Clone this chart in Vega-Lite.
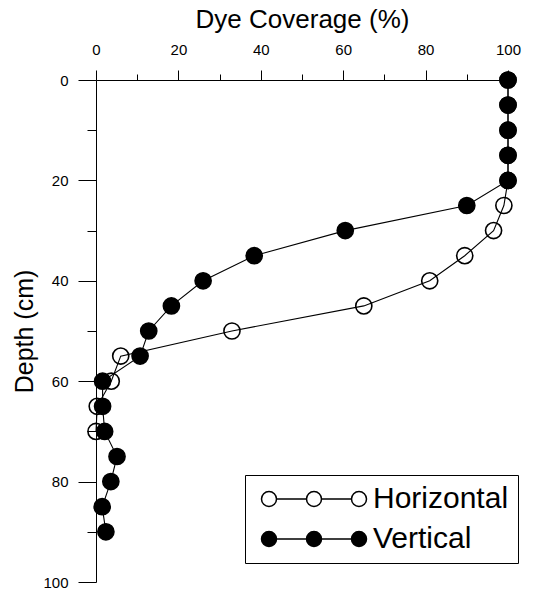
{
  "$schema": "https://vega.github.io/schema/vega-lite/v6.json",
  "width": 412,
  "height": 502,
  "autosize": "none",
  "padding": {"left": 96, "top": 80, "right": 46, "bottom": 8},
  "background": "white",
  "data": {
    "values": [
      {"series": "Horizontal", "coverage": 100, "depth": 0},
      {"series": "Horizontal", "coverage": 100, "depth": 5},
      {"series": "Horizontal", "coverage": 100, "depth": 10},
      {"series": "Horizontal", "coverage": 100, "depth": 15},
      {"series": "Horizontal", "coverage": 100, "depth": 20},
      {"series": "Horizontal", "coverage": 99, "depth": 25},
      {"series": "Horizontal", "coverage": 96.5, "depth": 30},
      {"series": "Horizontal", "coverage": 89.5, "depth": 35},
      {"series": "Horizontal", "coverage": 81, "depth": 40},
      {"series": "Horizontal", "coverage": 65, "depth": 45},
      {"series": "Horizontal", "coverage": 33, "depth": 50},
      {"series": "Horizontal", "coverage": 6, "depth": 55},
      {"series": "Horizontal", "coverage": 3.7, "depth": 60},
      {"series": "Horizontal", "coverage": 0.3, "depth": 65},
      {"series": "Horizontal", "coverage": 0, "depth": 70},
      {"series": "Vertical", "coverage": 100, "depth": 0},
      {"series": "Vertical", "coverage": 100, "depth": 5},
      {"series": "Vertical", "coverage": 100, "depth": 10},
      {"series": "Vertical", "coverage": 100, "depth": 15},
      {"series": "Vertical", "coverage": 100, "depth": 20},
      {"series": "Vertical", "coverage": 90, "depth": 25},
      {"series": "Vertical", "coverage": 60.5, "depth": 30},
      {"series": "Vertical", "coverage": 38.4, "depth": 35},
      {"series": "Vertical", "coverage": 26, "depth": 40},
      {"series": "Vertical", "coverage": 18.3, "depth": 45},
      {"series": "Vertical", "coverage": 12.8, "depth": 50},
      {"series": "Vertical", "coverage": 10.7, "depth": 55},
      {"series": "Vertical", "coverage": 1.6, "depth": 60},
      {"series": "Vertical", "coverage": 1.6, "depth": 65},
      {"series": "Vertical", "coverage": 2.1, "depth": 70},
      {"series": "Vertical", "coverage": 5.1, "depth": 75},
      {"series": "Vertical", "coverage": 3.6, "depth": 80},
      {"series": "Vertical", "coverage": 1.5, "depth": 85},
      {"series": "Vertical", "coverage": 2.4, "depth": 90}
    ]
  },
  "encoding": {
    "x": {
      "field": "coverage",
      "type": "quantitative",
      "scale": {"domain": [0, 100], "nice": false, "zero": false},
      "axis": {
        "orient": "top",
        "title": "Dye Coverage (%)",
        "titleFontSize": 26,
        "values": [0, 10, 20, 30, 40, 50, 60, 70, 80, 90, 100],
        "labelExpr": "datum.value % 20 === 0 ? datum.label : ''",
        "tickSize": {"condition": {"test": "datum.value % 20 === 0", "value": 10}, "value": 6},
        "labelFlush": false,
        "labelPadding": 13,
        "titlePadding": 10,
        "grid": false
      }
    },
    "y": {
      "field": "depth",
      "type": "quantitative",
      "scale": {"domain": [0, 100], "reverse": true, "nice": false},
      "axis": {
        "orient": "left",
        "title": "Depth (cm)",
        "titleFontSize": 25,
        "values": [0, 10, 20, 30, 40, 50, 60, 70, 80, 90, 100],
        "labelExpr": "datum.value % 20 === 0 ? datum.label : ''",
        "tickSize": {"condition": {"test": "datum.value % 20 === 0", "value": 18}, "value": 9},
        "labelFlush": false,
        "labelPadding": 10,
        "titlePadding": 5,
        "grid": false
      }
    }
  },
  "layer": [
    {
      "mark": {"type": "line", "color": "black", "strokeWidth": 1.1},
      "encoding": {
        "detail": {"field": "series"},
        "order": {"field": "depth", "type": "quantitative"}
      }
    },
    {
      "mark": {"type": "point", "shape": "circle", "filled": true, "size": 260, "stroke": "black", "strokeWidth": 1.6, "opacity": 1},
      "encoding": {
        "fill": {
          "field": "series",
          "type": "nominal",
          "scale": {"domain": ["Horizontal", "Vertical"], "range": ["rgba(0,0,0,0)", "black"]},
          "legend": {
            "title": null,
            "orient": "none",
            "legendX": 149,
            "legendY": 395,
            "strokeColor": "black",
            "padding": 9,
            "symbolType": "M1,0A1,1 0 1,1 -1,0A1,1 0 1,1 1,0Z M7,0A1,1 0 1,1 5,0A1,1 0 1,1 7,0Z M13,0A1,1 0 1,1 11,0A1,1 0 1,1 13,0Z M1,0L5,0M7,0L11,0",
            "symbolSize": 225,
            "symbolStrokeColor": "black",
            "symbolStrokeWidth": 1.5,
            "symbolOpacity": 1,
            "labelFontSize": 30,
            "labelFont": "Liberation Sans",
            "labelColor": "black",
            "labelOffset": 89,
            "labelLimit": 300,
            "rowPadding": 10
          }
        }
      }
    }
  ],
  "config": {
    "view": {"stroke": null},
    "font": "Liberation Sans",
    "axis": {
      "domainColor": "black",
      "domainWidth": 1,
      "tickColor": "black",
      "tickWidth": 1,
      "labelColor": "black",
      "labelFont": "Liberation Sans",
      "labelFontSize": 15,
      "titleColor": "black",
      "titleFont": "Liberation Sans",
      "titleFontSize": 24,
      "titleFontWeight": "normal"
    }
  }
}
